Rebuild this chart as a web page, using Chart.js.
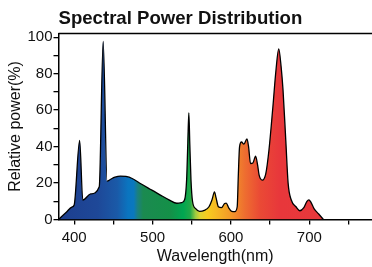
<!DOCTYPE html>
<html>
<head>
<meta charset="utf-8">
<script src="https://cdn.jsdelivr.net/npm/chart.js@4"></script>
<style>
html,body{margin:0;padding:0;background:#fff;overflow:hidden}
</style>
</head>
<body>
<canvas id="myChart" width="372" height="267"></canvas>
<script>
// wavelength (nm) and relative power (%)
let wavelength = [380,390,397,400,407,411,421,432,437,442,447,452,459,466,474,485,497,510,521,531,537,541,543.5,545,546.3,547.5,549,551,555,560,566,572,576,579,581,584,588,592,594,597,601,605,608,609.5,611,613.5,616.5,620.5,622.5,625,628,631.5,634,636,640,644.5,648.5,653.5,657.5,661,664,666.5,670,673,677,683,688,693,697,699.5,702,706,712,718]
let power = [0,4,6.8,8,43.4,10.7,14,18,97.7,21,22.2,23.2,23.8,23.6,22.5,19.6,16.6,13.4,10.8,8.9,9.2,11,22,42,58.4,42,22,10,6,4.5,5,7,11,15.2,12,7,6.5,8.8,9,6.5,4.5,4.3,7,25,39.8,42.5,41.3,44.2,40,30.7,31,34.7,30,24.3,21.6,25.2,38,61.6,82,93.6,84,70.8,43.4,19.8,10.7,7,4.8,6.5,10,10.8,9.5,6,3,0]

// tick marks and which of them get a label
let xMarks = [400,450,500,550,600,650,700,750]
let xTicks = [400,500,600,700]
let yMarks = [0,10,20,30,40,50,60,70,80,90,100]
let yTicks = [0,20,40,60,80,100]

// colour of the spectrum under the curve
let stopNm = [380,430,455,469,476,481,488,523,539,548,555,561,570,582,599,618,637,662,780]
let stopColor = ['#1d3e8e','#1e4898','#1a5aa8','#0a75c0','#0a78be','#1b8080','#1b8a50','#149048','#00a651','#20a848','#a0cc40','#e0d430','#f7cc1f','#f6b824','#f39a28','#ee6d30','#ea4a35','#e8373b','#e63a3c']

let points = []
for (let i in wavelength) {
    points.push({x: wavelength[i], y: power[i]})
}

function spectrum(context) {
    const chart = context.chart
    if (!chart.chartArea) return null
    const sx = chart.scales.x
    const g = chart.ctx.createLinearGradient(sx.getPixelForValue(380), 0, sx.getPixelForValue(780), 0)
    for (let i in stopNm) {
        g.addColorStop((stopNm[i] - 380) / 400, stopColor[i])
    }
    return g
}

// line along the top of the plot
const topLine = {
    id: 'topLine',
    afterDraw(chart) {
        const c = chart.ctx, a = chart.chartArea
        c.save()
        c.strokeStyle = '#000'
        c.lineWidth = 1.5
        c.beginPath()
        c.moveTo(a.left, a.top)
        c.lineTo(a.right + 2, a.top)
        c.stroke()
        c.restore()
    }
}

const font = 'Liberation Sans, Arial, sans-serif'
const ctx = document.getElementById('myChart').getContext('2d')
new Chart(ctx, {
    type: 'line',
    data: {
        datasets: [{
            data: points,
            borderColor: '#000',
            borderWidth: 1.3,
            pointRadius: 0,
            fill: 'origin',
            cubicInterpolationMode: 'monotone',
            backgroundColor: spectrum
        }]
    },
    options: {
        responsive: false,
        animation: false,
        layout: {padding: 0},
        plugins: {
            legend: {display: false},
            tooltip: {enabled: false},
            title: {
                display: true,
                text: 'Spectral Power Distribution',
                align: 'start',
                fullSize: false,
                color: '#111',
                font: {family: font, size: 18.6, weight: 'bold'},
                padding: {top: 8, bottom: 3.2}
            }
        },
        scales: {
            x: {
                type: 'linear',
                min: 380,
                max: 780,
                afterBuildTicks: s => { s.ticks = xMarks.map(v => ({value: v})) },
                afterFit: s => { s.height = 47.5 },
                grid: {drawOnChartArea: false, tickLength: 5, color: '#000', lineWidth: 1.3},
                border: {color: '#000', width: 1.5},
                ticks: {
                    autoSkip: false, maxRotation: 0, padding: 4,
                    color: '#111', font: {family: font, size: 15},
                    callback: v => xTicks.includes(v) ? String(v) : ''
                },
                title: {display: true, text: 'Wavelength(nm)', color: '#111', font: {family: font, size: 16}, padding: {top: 0, bottom: 1}}
            },
            y: {
                min: 0,
                max: 102,
                afterBuildTicks: s => { s.ticks = yMarks.map(v => ({value: v})) },
                afterFit: s => { s.width = 58.5 },
                grid: {drawOnChartArea: false, tickLength: 5, color: '#000', lineWidth: 1.3},
                border: {color: '#000', width: 1.5},
                ticks: {
                    autoSkip: false, padding: 1,
                    color: '#111', font: {family: font, size: 15},
                    callback: v => yTicks.includes(v) ? String(v) : ''
                },
                title: {display: true, text: 'Relative power(%)', color: '#111', font: {family: font, size: 16}, padding: {top: 6, bottom: 0}}
            }
        }
    },
    plugins: [topLine]
})
</script>
</body>
</html>
